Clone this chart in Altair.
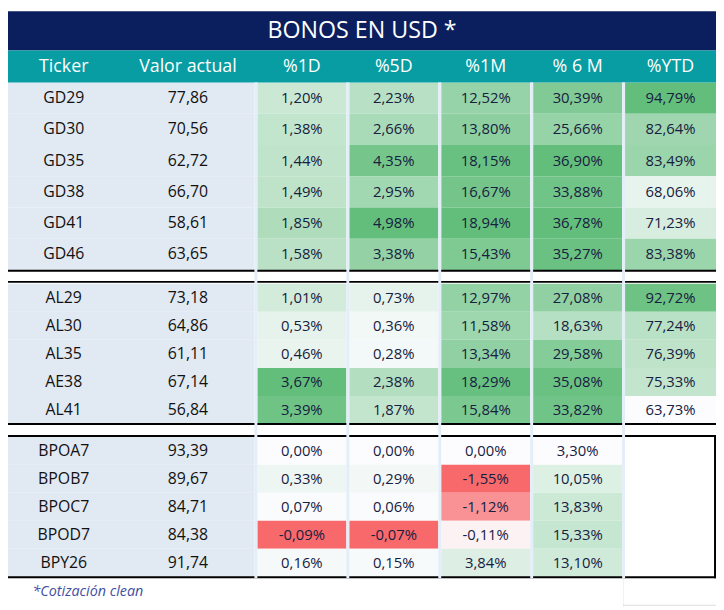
import altair as alt
import pandas as pd

# ---------------- data ----------------
title = "BONOS EN USD *"
headers = ["Ticker", "Valor actual", "%1D", "%5D", "%1M", "% 6 M", "%YTD"]
footnote = "*Cotización clean"

tickers = ["GD29", "GD30", "GD35", "GD38", "GD41", "GD46",
           "AL29", "AL30", "AL35", "AE38", "AL41",
           "BPOA7", "BPOB7", "BPOC7", "BPOD7", "BPY26"]
valor = [77.86, 70.56, 62.72, 66.70, 58.61, 63.65,
         73.18, 64.86, 61.11, 67.14, 56.84,
         93.39, 89.67, 84.71, 84.38, 91.74]
p1d = [1.20, 1.38, 1.44, 1.49, 1.85, 1.58,
       1.01, 0.53, 0.46, 3.67, 3.39,
       0.00, 0.33, 0.07, -0.09, 0.16]
p5d = [2.23, 2.66, 4.35, 2.95, 4.98, 3.38,
       0.73, 0.36, 0.28, 2.38, 1.87,
       0.00, 0.29, 0.06, -0.07, 0.15]
p1m = [12.52, 13.80, 18.15, 16.67, 18.94, 15.43,
       12.97, 11.58, 13.34, 18.29, 15.84,
       0.00, -1.55, -1.12, -0.11, 3.84]
p6m = [30.39, 25.66, 36.90, 33.88, 36.78, 35.27,
       27.08, 18.63, 29.58, 35.08, 33.82,
       3.30, 10.05, 13.83, 15.33, 13.10]
pytd = [94.79, 82.64, 83.49, 68.06, 71.23, 83.38,
        92.72, 77.24, 76.39, 75.33, 63.73,
        None, None, None, None, None]
section = [0] * 6 + [1] * 5 + [2] * 5

series = [p1d, p5d, p1m, p6m, pytd]
# colour-scale kind per column: "mid0" = red-white-green around 0, "minmax" = white-green
scale_kind = ["mid0", "mid0", "mid0", "minmax", "minmax"]

# ---------------- layout (reference pixel frame 724 x 610) ----------------
W, H = 716, 602
REF_W, REF_H = 724, 610
sec_top = [73, 279, 436]
sec_rowh = [32, 28.8, 28.7]
col_edges = [(255, 346), (349, 440), (443, 534), (537, 628), (631, 724)]
ticker_cx, valor_cx = 57, 184

NAVY = "#0B1F5E"
TEAL = "#079DA3"
LEFT_BG = "#E1E9F3"
SEP = "#E4EEF9"
FONT = "Open Sans"


def fmt(v, pct=True):
    s = f"{v:.2f}".replace(".", ",")
    return s + "%" if pct else s


def row_box(i):
    s = section[i]
    k = i - section.index(s)
    y1 = sec_top[s] + k * sec_rowh[s]
    return y1, y1 + sec_rowh[s]


# cells
cells = []
for j, vals in enumerate(series):
    present = [v for v in vals if v is not None]
    vmin, vmax = min(present), max(present)
    for i, v in enumerate(vals):
        if v is None:
            continue
        if scale_kind[j] == "mid0":
            t = v / vmax if v >= 0 else -(v / vmin)
        else:
            t = (v - vmin) / (vmax - vmin)
        y1, y2 = row_box(i)
        x1, x2 = col_edges[j]
        cells.append(dict(x1=x1, x2=x2, y1=y1, y2=y2, yc=(y1 + y2) / 2,
                          xc=(x1 + x2) / 2, t=t, label=fmt(v)))
cells = pd.DataFrame(cells)

left = []
for i, (tk, va) in enumerate(zip(tickers, valor)):
    y1, y2 = row_box(i)
    left.append(dict(x1=0, x2=252, y1=y1, y2=y2, yc=(y1 + y2) / 2,
                     tk=tk, va=fmt(va, pct=False)))
left = pd.DataFrame(left)

shapes = [
    dict(x1=0, x2=724, y1=0, y2=40, fill=NAVY),
    dict(x1=0, x2=724, y1=40, y2=73, fill=TEAL),
]
# black section lines
for yl in [264.8, 276.2, 421.8, 434.2, 578.8]:
    shapes.append(dict(x1=0, x2=724, y1=yl, y2=yl + 2, fill="#000000"))
# right border of empty box
shapes.append(dict(x1=722, x2=724, y1=434.2, y2=580.8, fill="#000000"))
# vertical separators
for xa in [252, 346, 440, 534, 628]:
    shapes.append(dict(x1=xa, x2=xa + 3, y1=73, y2=580.8, fill=SEP))
shapes.append(dict(x1=629, x2=630, y1=580.8, y2=610, fill="#EEF2F6"))
shapes.append(dict(x1=629, x2=724, y1=608, y2=609, fill="#DDDDDD"))
shapes = pd.DataFrame(shapes)

hdr_x = [ticker_cx, valor_cx] + [(a + b) / 2 for a, b in col_edges]
hdr = pd.DataFrame(dict(x=hdr_x, y=[57] * len(headers), text=headers))
ttl = pd.DataFrame(dict(x=[362], y=[20], text=[title]))
fn = pd.DataFrame(dict(x=[25], y=[595], text=[footnote]))

xs = alt.Scale(domain=[0, REF_W], nice=False, zero=False)
ys = alt.Scale(domain=[0, REF_H], nice=False, zero=False, reverse=True)

base_rect = dict(
    x=alt.X("x1:Q", scale=xs, axis=None), x2="x2:Q",
    y=alt.Y("y1:Q", scale=ys, axis=None), y2="y2:Q",
)

left_rect = alt.Chart(left).mark_rect(color=LEFT_BG).encode(**base_rect)

cell_rect = alt.Chart(cells).mark_rect().encode(
    **base_rect,
    color=alt.Color("t:Q", scale=alt.Scale(domain=[-1, 0, 1],
                                           range=["#F8696B", "#FCFCFF", "#63BE7B"],
                                           interpolate="rgb"),
                    legend=None),
)

shape_rect = alt.Chart(shapes).mark_rect().encode(
    **base_rect, color=alt.Color("fill:N", scale=None))

cell_text = alt.Chart(cells).mark_text(font=FONT, fontSize=15, color="#16203F",
                                       baseline="middle").encode(
    x=alt.X("xc:Q", scale=xs, axis=None), y=alt.Y("yc:Q", scale=ys, axis=None),
    text="label:N")

tk_text = alt.Chart(left).mark_text(font=FONT, fontSize=16, color="#111111",
                                    baseline="middle").encode(
    x=alt.value(ticker_cx * W / REF_W), y=alt.Y("yc:Q", scale=ys, axis=None),
    text="tk:N")

va_text = alt.Chart(left).mark_text(font=FONT, fontSize=16, color="#111111",
                                    baseline="middle").encode(
    x=alt.value(valor_cx * W / REF_W), y=alt.Y("yc:Q", scale=ys, axis=None),
    text="va:N")

hdr_text = alt.Chart(hdr).mark_text(font=FONT, fontSize=18, color="white",
                                    baseline="middle").encode(
    x=alt.X("x:Q", scale=xs, axis=None), y=alt.Y("y:Q", scale=ys, axis=None),
    text="text:N")

ttl_text = alt.Chart(ttl).mark_text(font=FONT, fontSize=23.5, color="white",
                                    baseline="middle").encode(
    x=alt.X("x:Q", scale=xs, axis=None), y=alt.Y("y:Q", scale=ys, axis=None),
    text="text:N")

fn_text = alt.Chart(fn).mark_text(font=FONT, fontSize=14.5, fontStyle="italic",
                                  color="#3F4FA0", align="left",
                                  baseline="middle").encode(
    x=alt.X("x:Q", scale=xs, axis=None), y=alt.Y("y:Q", scale=ys, axis=None),
    text="text:N")

chart = alt.layer(
    left_rect, cell_rect, shape_rect,
    cell_text, tk_text, va_text, hdr_text, ttl_text, fn_text,
).resolve_scale(color="independent").properties(
    width=W, height=H, padding=0,
    autosize=alt.AutoSizeParams(type="none"),
    background="white",
).configure_view(stroke=None)

chart.save("out.html", embed_options={"renderer": "svg", "actions": False})
